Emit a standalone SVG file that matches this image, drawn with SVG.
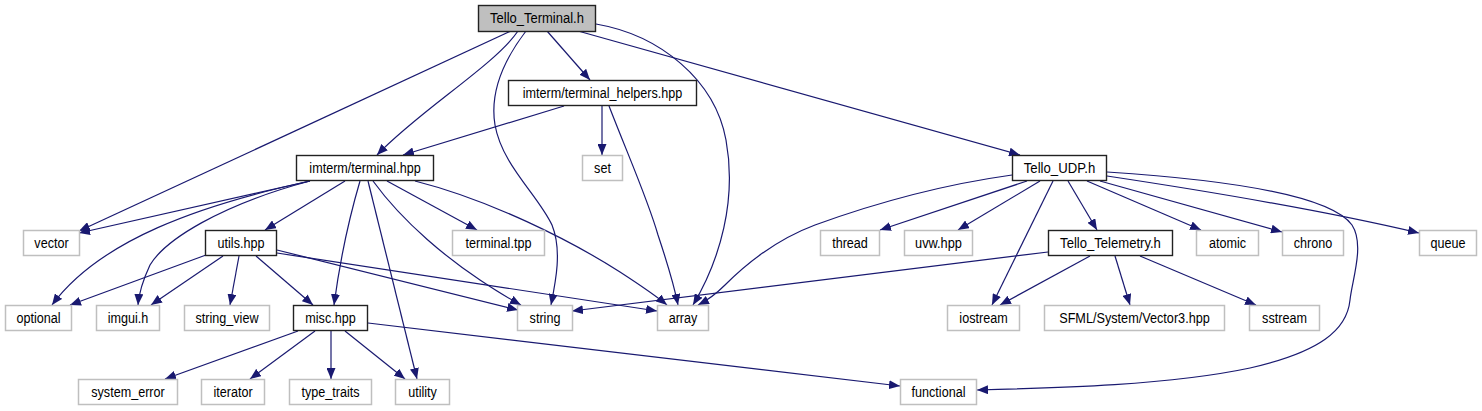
<svg xmlns="http://www.w3.org/2000/svg" width="1482" height="411" viewBox="0 0 1482 411">
<style>
.e{fill:none;stroke:#191970;stroke-width:1.2;marker-end:url(#arr)}
.n rect{fill:#fff;stroke:#222;stroke-width:1.4}
.l rect{fill:#fff;stroke:#bfbfbf;stroke-width:1.5}
.root rect{fill:#bfbfbf}
text{font-family:"Liberation Sans",Arial,Helvetica,sans-serif;font-size:14px;fill:#000;text-anchor:middle}
</style>
<defs>
<marker id="arr" markerUnits="userSpaceOnUse" viewBox="0 0 11 9" markerWidth="11" markerHeight="9" refX="11" refY="4.5" orient="auto">
<path d="M0,0 L11,4.5 L0,9 z" fill="#191970"/>
</marker>
</defs>
<rect width="1482" height="411" fill="#fff"/>
<g id="connectors">
<path class="e" d="M511,31 L79,231"/>
<path class="e" d="M518,31 C495,65 420,110 377,155"/>
<path class="e" d="M526,31 C500,65 490,95 495,125 C502,165 538,195 552,225 C562,250 556,280 551,305"/>
<path class="e" d="M547,31 L590,80"/>
<path class="e" d="M596,24 C660,35 715,80 726,140 C737,200 720,260 693,305"/>
<path class="e" d="M578,31 L1020,155"/>
<path class="e" d="M564,106 L403,155"/>
<path class="e" d="M602,106 L602,155"/>
<path class="e" d="M609,106 C630,160 648,200 658,235 C668,265 674,285 678,305"/>
<path class="e" d="M310,181 L79,233"/>
<path class="e" d="M310,181 C200,205 100,240 52,305"/>
<path class="e" d="M310,181 C220,205 165,240 150,265 C143,280 139,292 138,305"/>
<path class="e" d="M345,181 L265,230"/>
<path class="e" d="M360,181 C350,215 340,260 334,305"/>
<path class="e" d="M368,181 L417,379"/>
<path class="e" d="M373,181 C405,225 450,260 480,280 C495,290 508,298 521,305"/>
<path class="e" d="M387,181 L477,230"/>
<path class="e" d="M415,181 C490,200 570,240 620,272 C640,285 655,295 667,305"/>
<path class="e" d="M206,255 L70,305"/>
<path class="e" d="M223,256 L151,305"/>
<path class="e" d="M239,256 L230,305"/>
<path class="e" d="M256,256 L313,305"/>
<path class="e" d="M277,250 L518,310"/>
<path class="e" d="M277,253 L657,311"/>
<path class="e" d="M298,331 L165,379"/>
<path class="e" d="M315,331 L250,379"/>
<path class="e" d="M331,331 L331,379"/>
<path class="e" d="M345,331 L405,379"/>
<path class="e" d="M368,323 L900,386"/>
<path class="e" d="M1012,175 C940,185 870,205 815,225 C775,240 745,265 725,285 C715,295 708,300 698,305"/>
<path class="e" d="M1027,181 L880,230"/>
<path class="e" d="M1040,181 L958,230"/>
<path class="e" d="M1053,181 L992,305"/>
<path class="e" d="M1068,181 L1097,230"/>
<path class="e" d="M1087,181 L1201,230"/>
<path class="e" d="M1100,181 L1282,232"/>
<path class="e" d="M1107,176 C1200,190 1330,212 1419,233"/>
<path class="e" d="M1107,172 C1230,180 1330,195 1352,225 C1365,245 1352,280 1350,300 C1347,330 1320,352 1250,368 C1170,385 1060,388 977,390"/>
<path class="e" d="M1048,252 L572,311"/>
<path class="e" d="M1090,256 L1000,305"/>
<path class="e" d="M1115,256 L1130,305"/>
<path class="e" d="M1140,256 L1256,305"/>
</g>
<g id="node_tello_terminal" class="n root"><rect x="478.5" y="5.5" width="117" height="26"/><text x="537" y="23" textLength="93.8" lengthAdjust="spacingAndGlyphs">Tello_Terminal.h</text></g>
<g id="node_terminal_helpers" class="n"><rect x="508.5" y="80.5" width="188" height="25"/><text x="602.5" y="97.5" textLength="159.6" lengthAdjust="spacingAndGlyphs">imterm/terminal_helpers.hpp</text></g>
<g id="node_terminal_hpp" class="n"><rect x="296.5" y="155.5" width="137" height="25"/><text x="365" y="172.5" textLength="111.3" lengthAdjust="spacingAndGlyphs">imterm/terminal.hpp</text></g>
<g id="node_set" class="l"><rect x="582.5" y="155.5" width="40" height="25"/><text x="602.5" y="172.5" textLength="16.8" lengthAdjust="spacingAndGlyphs">set</text></g>
<g id="node_tello_udp" class="n"><rect x="1012.5" y="155.5" width="94" height="25"/><text x="1059.5" y="172.5" textLength="71.4" lengthAdjust="spacingAndGlyphs">Tello_UDP.h</text></g>
<g id="node_vector" class="l"><rect x="23.5" y="230.5" width="56" height="25"/><text x="51.5" y="247.5" textLength="34.3" lengthAdjust="spacingAndGlyphs">vector</text></g>
<g id="node_utils" class="n"><rect x="205.5" y="230.5" width="71" height="25"/><text x="241" y="247.5" textLength="46.9" lengthAdjust="spacingAndGlyphs">utils.hpp</text></g>
<g id="node_terminal_tpp" class="l"><rect x="452.5" y="230.5" width="92" height="25"/><text x="498.5" y="247.5" textLength="65.8" lengthAdjust="spacingAndGlyphs">terminal.tpp</text></g>
<g id="node_thread" class="l"><rect x="820.5" y="230.5" width="59" height="25"/><text x="850" y="247.5" textLength="35.7" lengthAdjust="spacingAndGlyphs">thread</text></g>
<g id="node_uvw" class="l"><rect x="904.5" y="230.5" width="68" height="25"/><text x="938.5" y="247.5" textLength="46.9" lengthAdjust="spacingAndGlyphs">uvw.hpp</text></g>
<g id="node_tello_telemetry" class="n"><rect x="1048.5" y="230.5" width="124" height="25"/><text x="1110.5" y="247.5" textLength="100.8" lengthAdjust="spacingAndGlyphs">Tello_Telemetry.h</text></g>
<g id="node_atomic" class="l"><rect x="1196.5" y="230.5" width="62" height="25"/><text x="1227.5" y="247.5" textLength="37.1" lengthAdjust="spacingAndGlyphs">atomic</text></g>
<g id="node_chrono" class="l"><rect x="1282.5" y="230.5" width="61" height="25"/><text x="1313" y="247.5" textLength="38.5" lengthAdjust="spacingAndGlyphs">chrono</text></g>
<g id="node_queue" class="l"><rect x="1419.5" y="230.5" width="57" height="25"/><text x="1448" y="247.5" textLength="35" lengthAdjust="spacingAndGlyphs">queue</text></g>
<g id="node_optional" class="l"><rect x="5.5" y="305.5" width="66" height="25"/><text x="38.5" y="322.5" textLength="44.1" lengthAdjust="spacingAndGlyphs">optional</text></g>
<g id="node_imgui" class="l"><rect x="96.5" y="305.5" width="63" height="25"/><text x="128" y="322.5" textLength="40.6" lengthAdjust="spacingAndGlyphs">imgui.h</text></g>
<g id="node_string_view" class="l"><rect x="184.5" y="305.5" width="85" height="25"/><text x="227" y="322.5" textLength="63" lengthAdjust="spacingAndGlyphs">string_view</text></g>
<g id="node_misc" class="n"><rect x="293.5" y="305.5" width="74" height="25"/><text x="330.5" y="322.5" textLength="50.4" lengthAdjust="spacingAndGlyphs">misc.hpp</text></g>
<g id="node_string" class="l"><rect x="517.5" y="305.5" width="55" height="25"/><text x="545" y="322.5" textLength="30.8" lengthAdjust="spacingAndGlyphs">string</text></g>
<g id="node_array" class="l"><rect x="657.5" y="305.5" width="51" height="25"/><text x="683" y="322.5" textLength="28.7" lengthAdjust="spacingAndGlyphs">array</text></g>
<g id="node_iostream" class="l"><rect x="947.5" y="305.5" width="72" height="25"/><text x="983.5" y="322.5" textLength="48.3" lengthAdjust="spacingAndGlyphs">iostream</text></g>
<g id="node_sfml_vector3" class="l"><rect x="1044.5" y="305.5" width="180" height="25"/><text x="1134.5" y="322.5" textLength="150.6" lengthAdjust="spacingAndGlyphs">SFML/System/Vector3.hpp</text></g>
<g id="node_sstream" class="l"><rect x="1249.5" y="305.5" width="70" height="25"/><text x="1284.5" y="322.5" textLength="44.8" lengthAdjust="spacingAndGlyphs">sstream</text></g>
<g id="node_system_error" class="l"><rect x="78.5" y="379.5" width="99" height="25"/><text x="128" y="396.5" textLength="73.5" lengthAdjust="spacingAndGlyphs">system_error</text></g>
<g id="node_iterator" class="l"><rect x="201.5" y="379.5" width="63" height="25"/><text x="233" y="396.5" textLength="39.2" lengthAdjust="spacingAndGlyphs">iterator</text></g>
<g id="node_type_traits" class="l"><rect x="289.5" y="379.5" width="82" height="25"/><text x="330.5" y="396.5" textLength="58.1" lengthAdjust="spacingAndGlyphs">type_traits</text></g>
<g id="node_utility" class="l"><rect x="395.5" y="379.5" width="54" height="25"/><text x="422.5" y="396.5" textLength="28.7" lengthAdjust="spacingAndGlyphs">utility</text></g>
<g id="node_functional" class="l"><rect x="900.5" y="379.5" width="76" height="25"/><text x="938.5" y="396.5" textLength="53.9" lengthAdjust="spacingAndGlyphs">functional</text></g>
</svg>
